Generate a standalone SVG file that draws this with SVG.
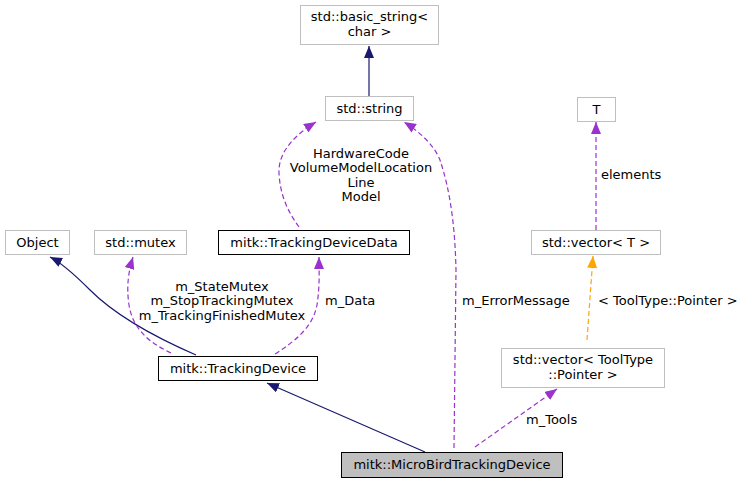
<svg xmlns="http://www.w3.org/2000/svg" width="744" height="484" viewBox="0 0 744 484">
<style>
text{font-family:"DejaVu Sans",sans-serif;font-size:13px;fill:#000;text-anchor:middle}
.ext{fill:#fff;stroke:#bfbfbf;stroke-width:1}
.doc{fill:#fff;stroke:#000;stroke-width:1}
.cur{fill:#bfbfbf;stroke:#000;stroke-width:1}
.inh{fill:none;stroke:#191970;stroke-width:1.2}
.use{fill:none;stroke:#9a32cd;stroke-width:1.2;stroke-dasharray:5,3}
.tpl{fill:none;stroke:#ffa500;stroke-width:1.2;stroke-dasharray:5,3}
.lft{text-anchor:start}
</style>
<defs>
<marker id="aN" markerUnits="userSpaceOnUse" markerWidth="12" markerHeight="10" viewBox="0 0 12 10" refX="12" refY="5" orient="auto"><path d="M0,0 L12,5 L0,10 z" fill="#191970"/></marker>
<marker id="aP" markerUnits="userSpaceOnUse" markerWidth="12" markerHeight="10" viewBox="0 0 12 10" refX="12" refY="5" orient="auto"><path d="M0,0 L12,5 L0,10 z" fill="#9a32cd"/></marker>
<marker id="aO" markerUnits="userSpaceOnUse" markerWidth="12" markerHeight="10" viewBox="0 0 12 10" refX="12" refY="5" orient="auto"><path d="M0,0 L12,5 L0,10 z" fill="#ffa500"/></marker>
</defs>
<rect width="744" height="484" fill="#fff"/>
<g id="connectors">
<path class="inh" d="M369,96 L369,46" marker-end="url(#aN)"/>
<path class="inh" d="M196,355 C150,335 115,315 90,290 C72,272 60,262 50,257" marker-end="url(#aN)"/>
<path class="inh" d="M425,452 L267,383" marker-end="url(#aN)"/>
<path class="use" d="M171,353 C150,343 133,330 129,305 C126,285 129,270 133,257" marker-end="url(#aP)"/>
<path class="use" d="M275,354 C300,338 313,325 317,305 C320,285 319,270 319,257" marker-end="url(#aP)"/>
<path class="use" d="M299,227 C288,212 280,195 279,173 C278,150 298,133 316,122" marker-end="url(#aP)"/>
<path class="use" d="M454,448 L456,270 C455,225 450,190 440,160 C434,145 420,132 404,122" marker-end="url(#aP)"/>
<path class="use" d="M596,230 L596,122" marker-end="url(#aP)"/>
<path class="tpl" d="M587,340 L593,256" marker-end="url(#aO)"/>
<path class="use" d="M475,447 L557,389" marker-end="url(#aP)"/>
<text x="361" y="158">HardwareCode</text>
<text x="361" y="172">VolumeModelLocation</text>
<text x="361" y="187">Line</text>
<text x="361" y="201">Model</text>
<text x="222" y="291">m_StateMutex</text>
<text x="222" y="305">m_StopTrackingMutex</text>
<text x="222" y="320">m_TrackingFinishedMutex</text>
<text class="lft" x="325" y="305">m_Data</text>
<text class="lft" x="462" y="305">m_ErrorMessage</text>
<text class="lft" x="601" y="179">elements</text>
<text class="lft" x="598" y="305">&lt; ToolType::Pointer &gt;</text>
<text class="lft" x="526" y="424">m_Tools</text>
</g>
<g id="node-basic_string"><rect class="ext" x="300.5" y="5.5" width="138" height="39"/><text x="369.5" y="21">std::basic_string&lt;</text><text x="369.5" y="36">char &gt;</text></g>
<g id="node-string"><rect class="ext" x="325.5" y="96.5" width="88" height="24"/><text x="369.5" y="113">std::string</text></g>
<g id="node-T"><rect class="ext" x="577.5" y="97.5" width="38" height="24"/><text x="596.5" y="114">T</text></g>
<g id="node-vectorT"><rect class="ext" x="531.5" y="230.5" width="129" height="24"/><text x="596" y="247">std::vector&lt; T &gt;</text></g>
<g id="node-vectorTool"><rect class="ext" x="501.5" y="348.5" width="163" height="39"/><text x="583" y="364">std::vector&lt; ToolType</text><text x="583" y="379">::Pointer &gt;</text></g>
<g id="node-Object"><rect class="ext" x="5.5" y="230.5" width="64" height="24"/><text x="37.5" y="247">Object</text></g>
<g id="node-mutex"><rect class="ext" x="94.5" y="230.5" width="92" height="24"/><text x="140.5" y="247">std::mutex</text></g>
<g id="node-TrackingDeviceData"><rect class="doc" x="218.5" y="230.5" width="191" height="24"/><text x="314" y="247">mitk::TrackingDeviceData</text></g>
<g id="node-TrackingDevice"><rect class="doc" x="158.5" y="356.5" width="159" height="24"/><text x="238" y="373">mitk::TrackingDevice</text></g>
<g id="node-MicroBird"><rect class="cur" x="341.5" y="452.5" width="221" height="25"/><text x="452" y="469">mitk::MicroBirdTrackingDevice</text></g>
</svg>
